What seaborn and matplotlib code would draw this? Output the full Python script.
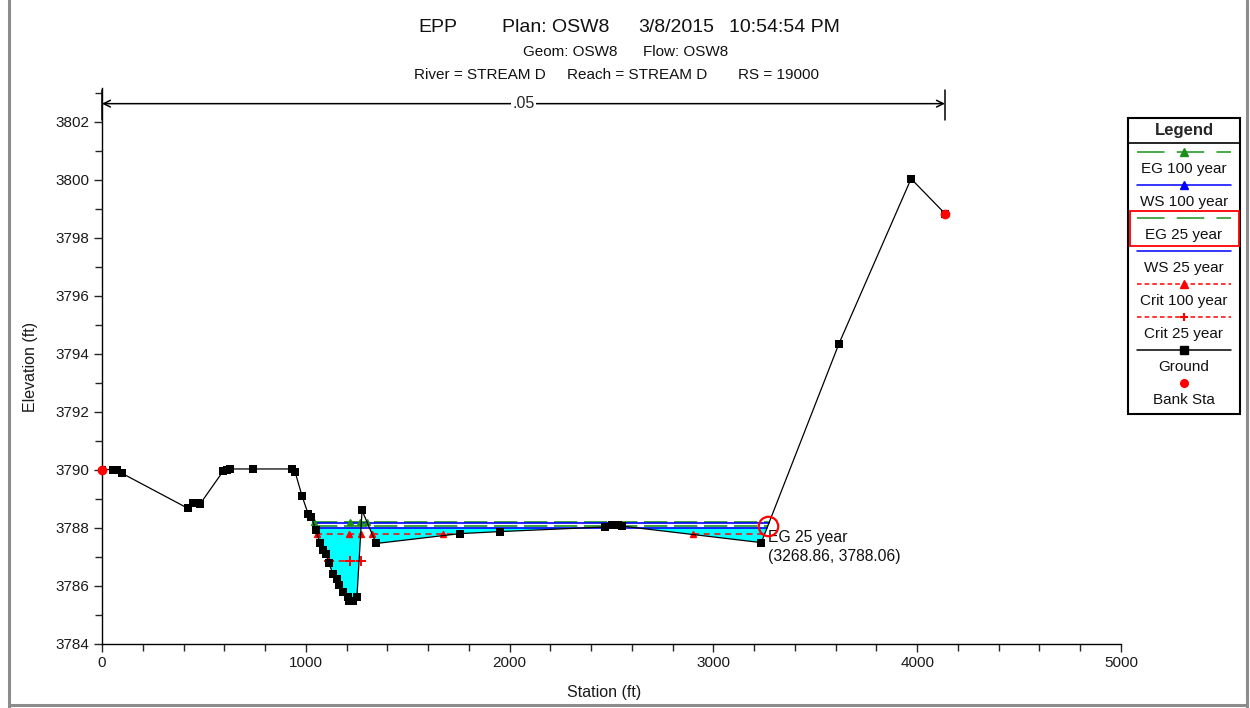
import numpy as np
import pandas as pd
import seaborn as sns
import matplotlib.pyplot as plt
from matplotlib.lines import Line2D
from matplotlib.patches import Rectangle
from matplotlib.ticker import MultipleLocator

# ground cross section (station ft, elevation ft)
station = [0, 54, 74, 98, 422, 447, 471, 480, 594, 613, 628, 741, 932, 947,
           981, 1011, 1026, 1050, 1070, 1084, 1099, 1114, 1133, 1153, 1163,
           1183, 1207, 1212, 1232, 1251, 1276, 1345, 1757, 1953, 2470, 2500,
           2530, 2550, 3235, 3616, 3970, 4136]
elevation = [3790.0, 3790.0, 3790.0, 3789.87, 3788.66, 3788.83, 3788.83, 3788.8,
             3789.94, 3790.0, 3790.02, 3790.02, 3790.02, 3789.93,
             3789.1, 3788.48, 3788.38, 3787.9, 3787.45, 3787.24, 3787.07, 3786.76,
             3786.41, 3786.24, 3786.03, 3785.79, 3785.62, 3785.45, 3785.45, 3785.62,
             3788.59, 3787.45, 3787.79, 3787.86, 3788.02, 3788.08, 3788.08, 3788.05,
             3787.48, 3794.34, 3800.03, 3798.83]
bank_sta = [0, 4136]
bank_elev = [3790.0, 3798.83]

# water surface profiles
eg100_x = [1038, 3275]
eg100 = 3788.18
eg100_marks = [1038, 1217, 1268, 1300]
ws100_x = [1039, 3274]
ws100 = 3788.16
eg25_x = [1040, 3269]
eg25 = 3788.06
ws25_x = [1041, 3265]
ws25 = 3788.0
crit100_x = [1052, 1271, np.nan, 1326, 1720, np.nan, 2898, 3250]
crit100 = 3787.76
crit100_marks = [1055, 1212, 1271, 1325, 1673, 2900]
crit25_x = [1110, 1271]
crit25 = 3786.86
crit25_marks = [1114, 1217, 1271]

# manning's n between bank stations
n_value = ".05"
n_elev = 3802.62

# picked point
pick_sta, pick_elev = 3268.86, 3788.06

legend_labels = ["EG 100 year", "WS 100 year", "EG 25 year", "WS 25 year",
                 "Crit 100 year", "Crit 25 year", "Ground", "Bank Sta"]

GREEN = "#1a8f1a"
BLUE = "#0000ff"
RED = "#ff0000"
CYAN = "#00ffff"

sns.set_style("ticks")
plt.rcParams['font.family'] = ['Liberation Sans', 'DejaVu Sans']

fig = plt.figure(figsize=(12.5, 7.08), dpi=100)
W, H = 1250, 708
ax = fig.add_axes([102 / W, 1 - 643.5 / H, 1019 / W, (643.5 - 88) / H])

ground = pd.DataFrame({"station": station, "elevation": elevation})
g = np.array(elevation)
ax.fill_between(station, elevation, ws25, where=g < ws25, interpolate=True,
                color=CYAN, lw=0, zorder=1)

ax.plot(eg100_x, [eg100] * 2, color=GREEN, lw=1.2, dashes=(14, 4), zorder=3)
ax.plot(eg100_marks, [eg100] * len(eg100_marks), ls='none', marker='^',
        color=GREEN, ms=5, zorder=4)
ax.plot(ws100_x, [ws100] * 2, color=BLUE, lw=1.2, zorder=3)
ax.plot(eg25_x, [eg25] * 2, color=GREEN, lw=1.2, dashes=(14, 4), zorder=3)
ax.plot(ws25_x, [ws25] * 2, color=BLUE, lw=1.2, zorder=3)
ax.plot(crit100_x, [crit100] * len(crit100_x), color=RED, lw=1.1,
        dashes=(4, 3), zorder=3)
ax.plot(crit100_marks, [crit100] * len(crit100_marks), ls='none', marker='^',
        color=RED, ms=5, zorder=4)
ax.plot(crit25_x, [crit25] * 2, color=RED, lw=1.1, dashes=(4, 3), zorder=3)
ax.plot(crit25_marks, [crit25] * len(crit25_marks), ls='none', marker='+',
        color=RED, ms=7, mew=1.4, zorder=4)

sns.lineplot(data=ground, x="station", y="elevation", estimator=None, sort=False,
             color="black", lw=0.9, marker='s', markersize=5.5, markeredgewidth=0,
             ax=ax, zorder=5)
ax.plot(bank_sta, bank_elev, ls='none', marker='o', color=RED, ms=6, zorder=6,
        clip_on=False)

# picked point annotation
ax.plot([pick_sta], [pick_elev], marker='o', mfc='none', mec=RED, ms=14,
        mew=1.6, zorder=7)
ax.annotate(f"EG 25 year\n({pick_sta:.2f}, {pick_elev:.2f})",
            xy=(pick_sta, pick_elev), xytext=(0, -3), textcoords='offset points',
            ha='left', va='top', fontsize=11.3, linespacing=1.3, color='#111111')

# manning's n arrow
ax.annotate('', xy=(bank_sta[0], n_elev), xytext=(bank_sta[1], n_elev),
            arrowprops=dict(arrowstyle='<->', color='black', lw=1.1,
                            shrinkA=0, shrinkB=0, mutation_scale=12),
            annotation_clip=False)
for s in bank_sta:
    ax.plot([s, s], [3802.07, 3803.1], color='black', lw=1.1, clip_on=False)
ax.text((bank_sta[0] + bank_sta[1]) / 2, n_elev, n_value, ha='center', va='center',
        fontsize=11.5, bbox=dict(fc='white', ec='none', pad=1))

ax.set_xlim(0, 5000)
ax.set_ylim(3784, 3803.16)
ax.xaxis.set_major_locator(MultipleLocator(1000))
ax.xaxis.set_minor_locator(MultipleLocator(200))
ax.yaxis.set_major_locator(MultipleLocator(2))
ax.yaxis.set_minor_locator(MultipleLocator(1))
ax.tick_params(which='major', length=6, width=1, labelsize=11, pad=3,
               labelcolor='#1a1a1a')
ax.tick_params(which='minor', length=5, width=1)
sns.despine(ax=ax)
for sp in ax.spines.values():
    sp.set_linewidth(1)
    sp.set_color('black')

ax.set_xlabel("Station (ft)", fontsize=11.5, color='#1a1a1a', va='center')
ax.set_ylabel("Elevation (ft)", fontsize=11.5, color='#1a1a1a', va='center')
ax.xaxis.set_label_coords((604 - 102) / 1019, -(692 - 643.5) / 555.5)
ax.yaxis.set_label_coords((30 - 102) / 1019, (643.5 - 367) / 555.5)

# title lines
def ftext(px, py, s, size):
    fig.text(px / W, 1 - py / H, s, fontsize=size, ha='left', va='center',
             color='#111111')

ftext(418, 27, "EPP", 14)
ftext(502, 27, "Plan: OSW8", 14)
ftext(638, 27, "3/8/2015", 14)
ftext(729, 27, "10:54:54 PM", 14)
ftext(523, 52, "Geom: OSW8", 11)
ftext(643, 52, "Flow: OSW8", 11)
ftext(414, 75, "River = STREAM D", 11)
ftext(567, 75, "Reach = STREAM D", 11)
ftext(738, 75, "RS = 19000", 11)

# legend box drawn like HEC-RAS (sample above label)
lax = fig.add_axes([1128 / W, 1 - 414 / H, 112 / W, 296 / H])
lax.set_xlim(0, 112)
lax.set_ylim(296, 0)
lax.axis('off')
lax.add_patch(Rectangle((0, 0), 112, 296, fill=False, ec='black', lw=1.5,
                        clip_on=False))
lax.plot([0, 112], [25, 25], color='black', lw=1.2, clip_on=False)
lax.text(56, 13, "Legend", ha='center', va='center', fontsize=12, weight='bold')
styles = [
    dict(color=GREEN, dashes=(18, 8), marker='^'),
    dict(color=BLUE, marker='^'),
    dict(color=GREEN, dashes=(18, 8), marker=None),
    dict(color=BLUE, marker=None),
    dict(color=RED, dashes=(3, 2), marker='^'),
    dict(color=RED, dashes=(3, 2), marker='+'),
    dict(color='black', marker='s'),
    dict(color=RED, marker='o', line=False),
]
for i, (lab, st) in enumerate(zip(legend_labels, styles)):
    y0 = 34 + i * 33
    if st.get('line', True):
        kw = dict(color=st['color'], lw=1.1)
        if 'dashes' in st:
            kw['dashes'] = st['dashes']
        lax.plot([9, 103], [y0, y0], **kw)
    if st['marker']:
        lax.plot([56], [y0], marker=st['marker'], color=st['color'], ms=5.5,
                 mew=1.5 if st['marker'] == '+' else 1, ls='none')
    lax.text(56, y0 + 17, lab, ha='center', va='center', fontsize=11,
             color='#111111')
lax.add_patch(Rectangle((1.5, 93), 109, 35, fill=False, ec=RED, lw=1.3,
                        clip_on=False))

# window frame
for xs, ys in [([9, 9], [0, H]), ([1247, 1247], [0, H]), ([9, 1247], [705, 705])]:
    fig.add_artist(Line2D([x / W for x in xs], [1 - y / H for y in ys],
                          color='#8c8c8c', lw=2.2))

fig.savefig("out.png", dpi=100)
plt.close(fig)
